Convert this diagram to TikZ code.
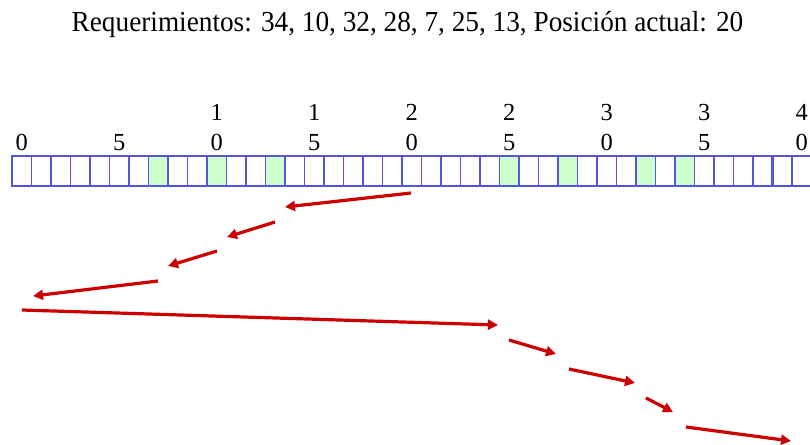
\documentclass[tikz,border=0pt]{standalone}
\usepackage{fontspec}
\setmainfont{Liberation Serif}
\usetikzlibrary{arrows.meta}
\definecolor{cellblue}{RGB}{85,85,221}
\definecolor{hitgreen}{RGB}{204,255,204}
\definecolor{arrred}{RGB}{204,0,0}
\begin{document}
\begin{tikzpicture}[x=1pt,y=-1pt,
  cellbox/.style={draw=cellblue, line width=1.3pt, minimum width=19.5pt, minimum height=30pt, inner sep=0pt, outer sep=0pt, anchor=north west},
  hitcell/.style={cellbox, fill=hitgreen},
  digit/.style={font=\fontsize{24.5}{28}\selectfont, anchor=base, inner sep=0pt},
  move/.style={draw=arrred, line width=3.2pt, -{Triangle[length=10pt,width=10pt]}},
]
\useasboundingbox (0,0) rectangle (810,444);
\fill[white] (0,0) rectangle (810,444);
% title
\node[anchor=base, inner sep=0pt] (title) at (407.5,32)
  {\scalebox{0.94}[1]{\fontsize{29}{34}\selectfont Requerimientos: 34, 10, 32, 28, 7, 25, 13, Posición actual: 20}};
% cells
\foreach \i in {0,...,40}{
  \gdef\cellsty{cellbox}
  \foreach \h in {7,10,13,25,28,32,34}{\ifnum\i=\h\relax\gdef\cellsty{hitcell}\fi}
  \node[\cellsty] (c\i) at ({12+19.5*\i},156) {};
}
\draw[cellblue, line width=2.6pt] (c39.north west) -- (c39.south west);
% scale labels
\foreach \k in {0,5,...,40}{
  \pgfmathsetmacro\cx{12+19.5*\k+9.75}
  \pgfmathtruncatemacro\tens{\k/10}
  \pgfmathtruncatemacro\units{\k-10*\tens}
  \ifnum\k<10\relax
    \node[digit] (u\k) at (\cx,150) {\units};
  \else
    \node[digit] (t\k) at (\cx,120) {\tens};
    \node[digit] (u\k) at (\cx,150) {\units};
  \fi
}
% head movements
\coordinate (s1) at (411,193); \coordinate (e1) at (285,207);
\coordinate (s2) at (275,222); \coordinate (e2) at (227,237);
\coordinate (s3) at (217,251); \coordinate (e3) at (168,266);
\coordinate (s4) at (158,281); \coordinate (e4) at (33,296);
\coordinate (s5) at (22,310);  \coordinate (e5) at (498,325);
\coordinate (s6) at (509,340); \coordinate (e6) at (556,354);
\coordinate (s7) at (569,369); \coordinate (e7) at (635,383);
\coordinate (s8) at (646,398); \coordinate (e8) at (673,412);
\coordinate (s9) at (686,427); \coordinate (e9) at (791,441);
\foreach \n in {1,...,9}{\draw[move] (s\n) -- (e\n);}
\end{tikzpicture}
\end{document}
